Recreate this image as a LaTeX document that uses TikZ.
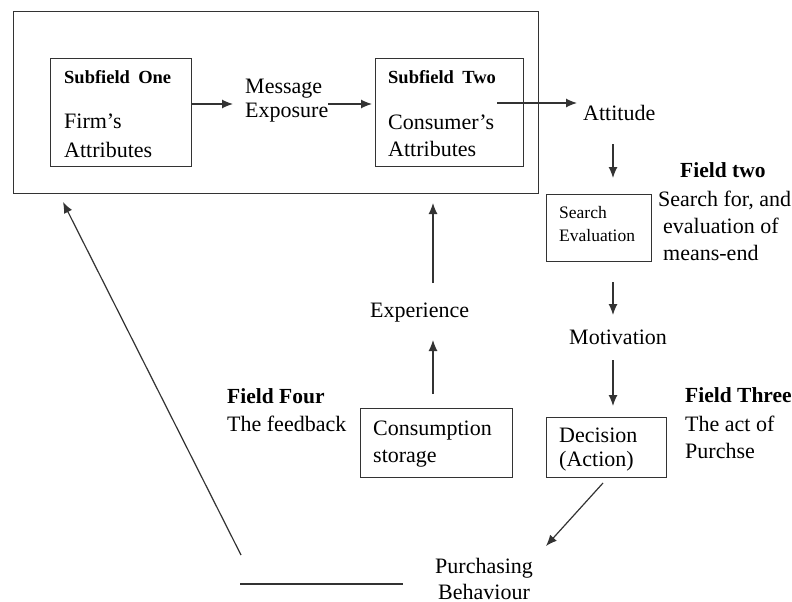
\documentclass[tikz,border=0pt]{standalone}
\usepackage{fontspec}
\setmainfont{Liberation Serif}
\usetikzlibrary{arrows.meta}
\definecolor{ln}{HTML}{333333}
\begin{document}
\begin{tikzpicture}[x=1pt,y=-1pt,
  box/.style={draw=ln,line width=1.2pt,rectangle,inner sep=0pt,anchor=north west},
  txt/.style={anchor=base west,inner sep=0pt,font=\fontsize{22}{24}\selectfont},
  btxt/.style={anchor=base west,inner sep=0pt,font=\fontsize{21.5}{24}\selectfont\bfseries},
  stxt/.style={anchor=base west,inner sep=0pt,font=\fontsize{18.5}{22}\selectfont\bfseries},
  smtxt/.style={anchor=base west,inner sep=0pt,font=\fontsize{17.5}{20}\selectfont},
  arr/.style={draw=ln,line width=1.2pt,-{Latex[length=11pt,width=9pt]}},
  plain/.style={draw=ln,line width=1.2pt}]
\useasboundingbox (0,0) rectangle (792,602);
% boxes
\node[box,minimum width=525pt,minimum height=182pt] (outer) at (13,11) {};
\node[box,minimum width=141pt,minimum height=108pt] (sub1) at (50,58) {};
\node[box,minimum width=148pt,minimum height=108pt] (sub2) at (375,58) {};
\node[box,minimum width=105pt,minimum height=67pt] (seval) at (546,194) {};
\node[box,minimum width=152pt,minimum height=69pt] (cons) at (360,408) {};
\node[box,minimum width=120pt,minimum height=60pt] (dec) at (546,417) {};
% texts
\node[stxt] (s1a) at (64,84) {Subfield\hspace{0.45em}One};
\node[txt] (s1b) at (64,128) {Firm’s};
\node[txt] (s1c) at (64,157) {Attributes};
\node[txt] (msg1) at (245,93) {Message};
\node[txt] (msg2) at (245,117) {Exposure};
\node[stxt] (s2a) at (388,84) {Subfield\hspace{0.45em}Two};
\node[txt] (s2b) at (388,129) {Consumer’s};
\node[txt] (s2c) at (388,156) {Attributes};
\node[txt] (att) at (583,120) {Attitude};
\node[btxt] (f2a) at (680,177) {Field two};
\node[txt] (f2b) at (658,206) {Search for, and};
\node[txt] (f2c) at (663,233) {evaluation of};
\node[txt] (f2d) at (663,260) {means-end};
\node[smtxt] (se1) at (559,218) {Search};
\node[smtxt] (se2) at (559,241) {Evaluation};
\node[txt] (mot) at (569,344) {Motivation};
\node[btxt] (f3a) at (685,402) {Field Three};
\node[txt] (f3b) at (685,431) {The act of};
\node[txt] (f3c) at (685,458) {Purchse};
\node[txt] (d1) at (559,442) {Decision};
\node[txt] (d2) at (559,466) {(Action)};
\node[txt] (exp) at (370,317) {Experience};
\node[btxt] (f4a) at (227,403) {Field Four};
\node[txt] (f4b) at (227,431) {The feedback};
\node[txt] (c1) at (373,435) {Consumption};
\node[txt] (c2) at (373,462) {storage};
\node[txt] (pb1) at (435,573) {Purchasing};
\node[txt] (pb2) at (438,599) {Behaviour};
% connector coordinates
\coordinate (t1) at (233,104);
\coordinate (t2) at (372,104);
\coordinate (s3) at (497,103);
\coordinate (t3) at (577,103);
\coordinate (s4) at (613,144);
\coordinate (t4) at (613,178);
\coordinate (s5) at (613,282);
\coordinate (t5) at (613,315);
\coordinate (s6) at (613,360);
\coordinate (t6) at (613,406);
\coordinate (s7) at (603,483);
\coordinate (t7) at (546,546);
\coordinate (s8) at (433,394);
\coordinate (t8) at (433,340);
\coordinate (s9) at (433,283);
\coordinate (t9) at (433,203);
\coordinate (s10) at (241,555);
\coordinate (t10) at (63,202);
\coordinate (h1) at (240,584);
\coordinate (h2) at (403,584);
% connectors
\draw[arr] (sub1.east |- t1) -- (t1);
\draw[arr] (msg2.east |- t2) -- (t2);
\draw[arr] (s3) -- (t3);
\draw[arr] (s4) -- (t4);
\draw[arr] (s5) -- (t5);
\draw[arr] (s6) -- (t6);
\draw[arr] (s7) -- (t7);
\draw[arr] (s8) -- (t8);
\draw[arr] (s9) -- (t9);
\draw[arr] (s10) -- (t10);
\draw[plain] (h1) -- (h2);
\end{tikzpicture}
\end{document}
